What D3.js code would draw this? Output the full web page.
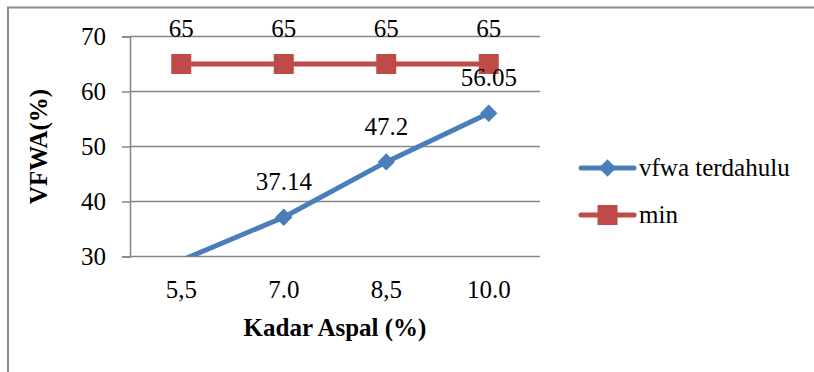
<!DOCTYPE html>
<html>
<head>
<meta charset="utf-8">
<script src="https://cdn.jsdelivr.net/npm/d3@7"></script>
</head>
<body style="margin:0">
<svg id="chart" width="814" height="372"></svg>
<script>
// Asphalt content categories (x axis)
const categories = ["5,5", "7.0", "8,5", "10.0"];
// VFWA values (%) for each series
const vfwaTerdahulu = [29.3, 37.14, 47.2, 56.05];
const vfwaMin = [65, 65, 65, 65];
const yTicks = [30, 40, 50, 60, 70];
const seriesNames = ["vfwa terdahulu", "min"];

const BASE_FS = 22;
const TEXT_SCALE = 25 / 22;

const svg = d3.select("#chart");
const plot = { left: 130, right: 540, top: 36.5, bottom: 256.5 };

// Serif face for text nodes; glyphs are drawn at a base size and scaled up
function serif(sel) {
  return sel.attr("font-size", BASE_FS).style("font-family", d => `"Liberation Serif"`);
}
function enlarge(sel) {
  sel.each(function () {
    const t = d3.select(this);
    const tx = +t.attr("x") || 0, ty = +t.attr("y") || 0;
    const prev = t.attr("transform") || "";
    t.attr("transform", `${prev} translate(${tx},${ty}) scale(${TEXT_SCALE})`)
      .attr("x", 0).attr("y", 0);
  });
  return sel;
}

// Outer chart frame
svg.append("rect")
  .attr("x", 8).attr("y", 7.5)
  .attr("width", 900).attr("height", 500)
  .attr("fill", "none").attr("stroke", "#8c8c8c").attr("stroke-width", 2);

const x = d3.scaleBand().domain(categories).range([plot.left, plot.right]);
const y = d3.scaleLinear().domain([30, 70]).range([plot.bottom, plot.top]);

// Horizontal gridlines
svg.append("g").selectAll("line").data(yTicks).join("line")
  .attr("x1", plot.left).attr("x2", plot.right)
  .attr("y1", d => y(d)).attr("y2", d => y(d))
  .attr("stroke", "#868686").attr("stroke-width", 1.5);

// Y axis
const yAxis = svg.append("g")
  .attr("transform", `translate(${plot.left},0)`)
  .call(d3.axisLeft(y).tickValues(yTicks).tickSize(8).tickPadding(16));
yAxis.attr("font-family", null).attr("font-size", null);
yAxis.select(".domain").attr("stroke", "#868686").attr("stroke-width", 1.5);
yAxis.selectAll(".tick line").attr("stroke", "#868686").attr("stroke-width", 1.5);
enlarge(serif(yAxis.selectAll(".tick text")).attr("fill", "#000"));

// X axis labels
const xAxis = svg.append("g")
  .attr("transform", `translate(0,${plot.bottom})`)
  .call(d3.axisBottom(x).tickSize(0).tickPadding(0));
xAxis.attr("font-family", null).attr("font-size", null);
xAxis.select(".domain").remove();
enlarge(serif(xAxis.selectAll(".tick text"))
  .attr("fill", "#000").attr("dy", null).attr("y", 41));

// Axis titles
enlarge(serif(svg.append("text"))
  .attr("x", (plot.left + plot.right) / 2).attr("y", 336)
  .attr("text-anchor", "middle")
  .attr("font-weight", "bold")
  .text("Kadar Aspal (%)"));
serif(svg.append("text"))
  .attr("transform", `translate(47,${(plot.top + plot.bottom) / 2}) rotate(-90) scale(${TEXT_SCALE})`)
  .attr("text-anchor", "middle")
  .attr("font-weight", "bold")
  .text("VFWA(%)");

const cx = (d, i) => x(categories[i]) + x.bandwidth() / 2;

const blue = "#4a7ebb";
const red = "#be4b48";

const line = d3.line().x(cx).y(d => y(d));

// Blue series: vfwa terdahulu, clipped at the bottom of the value axis
svg.append("clipPath").attr("id", "bottomClip")
  .append("rect")
  .attr("x", plot.left).attr("y", 0)
  .attr("width", plot.right - plot.left + 30)
  .attr("height", plot.bottom);
const gBlue = svg.append("g").attr("clip-path", "url(#bottomClip)");
gBlue.append("path").datum(vfwaTerdahulu)
  .attr("d", line).attr("fill", "none")
  .attr("stroke", blue).attr("stroke-width", 5);
const blueInRange = vfwaTerdahulu.map((v, i) => ({ v, i })).filter(d => d.v >= 30);
gBlue.selectAll("path.m").data(blueInRange).join("path")
  .attr("class", "m")
  .attr("d", d3.symbol().type(d3.symbolSquare).size(150))
  .attr("transform", d => `translate(${cx(d.v, d.i)},${y(d.v)}) rotate(45)`)
  .attr("fill", blue);

// Red series: min
svg.append("path").datum(vfwaMin)
  .attr("d", line).attr("fill", "none")
  .attr("stroke", red).attr("stroke-width", 5);
svg.selectAll("rect.sq").data(vfwaMin).join("rect")
  .attr("class", "sq")
  .attr("x", (d, i) => cx(d, i) - 10).attr("y", d => y(d) - 10)
  .attr("width", 20).attr("height", 20)
  .attr("fill", red);

// Data labels (only for values inside the axis range)
const labelRows = blueInRange.concat(vfwaMin.map((v, i) => ({ v, i })));
enlarge(serif(svg.append("g").selectAll("text")
  .data(labelRows)
  .join("text"))
  .attr("x", d => cx(d.v, d.i)).attr("y", d => y(d.v) - 27)
  .attr("text-anchor", "middle")
  .text(d => String(d.v)));

// Legend
const legend = svg.append("g");
const legendItems = [
  { name: seriesNames[0], color: blue, ly: 168, shape: "diamond" },
  { name: seriesNames[1], color: red, ly: 215, shape: "square" }
];
legendItems.forEach(it => {
  legend.append("line")
    .attr("x1", 581).attr("x2", 634)
    .attr("y1", it.ly).attr("y2", it.ly)
    .attr("stroke", it.color).attr("stroke-width", 5).attr("stroke-linecap", "round");
  if (it.shape === "diamond") {
    legend.append("path")
      .attr("d", d3.symbol().type(d3.symbolSquare).size(150))
      .attr("transform", `translate(607.5,${it.ly}) rotate(45)`)
      .attr("fill", it.color);
  } else {
    legend.append("rect")
      .attr("x", 597.5).attr("y", it.ly - 10)
      .attr("width", 20).attr("height", 20)
      .attr("fill", it.color);
  }
  enlarge(serif(legend.append("text"))
    .attr("x", 639).attr("y", it.ly + 8)
    .text(it.name));
});
</script>
</body>
</html>
